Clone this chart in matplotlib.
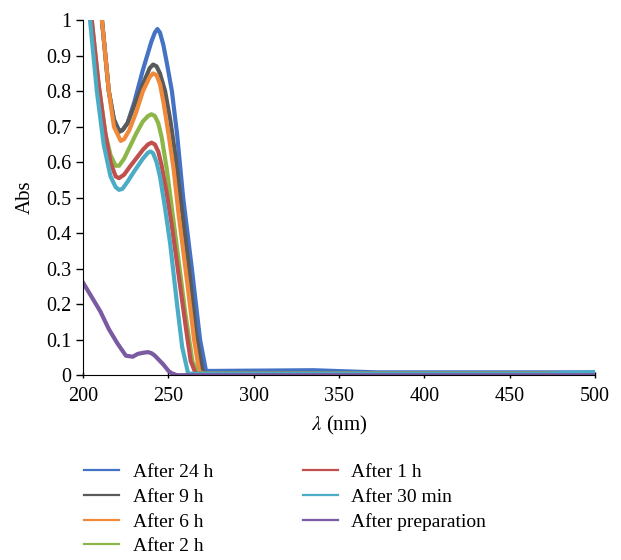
import matplotlib
matplotlib.use('Agg')
import matplotlib.pyplot as plt

plt.rcParams['font.family'] = ['Liberation Serif', 'DejaVu Serif']
plt.rcParams['mathtext.fontset'] = 'stix'

# absorbance spectra, wavelength in nm
wl_24h = [200, 205, 211, 215, 218, 221, 223, 226, 230, 235, 240, 242, 243.5, 245, 247, 249, 252, 255, 258.6, 263.7, 268.5, 272, 275, 335, 372, 500]
abs_24h = [1.5, 1.25, 1.0, 0.8, 0.72, 0.69, 0.69, 0.71, 0.77, 0.86, 0.94, 0.965, 0.975, 0.965, 0.93, 0.88, 0.8, 0.68, 0.5, 0.3, 0.1, 0.012, 0.012, 0.014, 0.008, 0.008]

wl_9h = [200, 205, 211, 215, 218, 221, 223, 226, 230, 235, 239, 241, 243, 245, 248, 251, 254, 257, 262, 266, 270, 273, 500]
abs_9h = [1.5, 1.25, 1.0, 0.8, 0.72, 0.685, 0.69, 0.71, 0.76, 0.82, 0.865, 0.875, 0.87, 0.85, 0.8, 0.72, 0.62, 0.5, 0.3, 0.12, 0.01, 0.004, 0.004]

wl_6h = [200, 205, 211, 215, 218, 222, 224, 227, 231, 235, 239, 241, 243, 245, 247, 250, 253, 256, 261, 265, 268, 272, 372, 467, 500]
abs_6h = [1.5, 1.25, 1.0, 0.8, 0.7, 0.66, 0.665, 0.69, 0.74, 0.8, 0.84, 0.85, 0.845, 0.82, 0.77, 0.68, 0.58, 0.45, 0.26, 0.1, 0.01, 0.002, -0.002, -0.002, 0.003]

wl_2h = [200, 205, 209, 213, 216, 219, 221, 224, 227, 231, 235, 238, 240, 242, 244, 246, 249, 252, 256, 260, 264, 267, 500]
abs_2h = [1.3, 1.0, 0.82, 0.68, 0.62, 0.59, 0.59, 0.61, 0.64, 0.68, 0.715, 0.73, 0.735, 0.73, 0.71, 0.67, 0.58, 0.47, 0.32, 0.17, 0.04, 0.005, 0.005]

wl_1h = [200, 205, 209, 213, 216, 219, 221, 224, 227, 231, 235, 238, 240, 242, 244, 246, 249, 252, 256, 260, 263, 266, 500]
abs_1h = [1.3, 1.0, 0.82, 0.68, 0.6, 0.56, 0.555, 0.565, 0.585, 0.61, 0.635, 0.65, 0.655, 0.65, 0.63, 0.59, 0.51, 0.42, 0.28, 0.14, 0.04, 0.004, 0.004]

wl_30m = [200, 204, 208, 212, 216, 219, 221, 223, 226, 230, 235, 238, 239.5, 241, 243, 245, 248, 251, 255, 258, 261.5, 264, 470, 500]
abs_30m = [1.3, 1.0, 0.8, 0.65, 0.56, 0.53, 0.522, 0.525, 0.545, 0.575, 0.61, 0.627, 0.63, 0.625, 0.6, 0.56, 0.47, 0.37, 0.2, 0.08, 0.005, 0.004, 0.004, 0.009]

wl_prep = [200, 205, 210, 215, 220, 225, 229, 232, 235, 238, 240, 242, 245, 247, 250, 252, 255, 500]
abs_prep = [0.26, 0.22, 0.18, 0.13, 0.09, 0.055, 0.052, 0.06, 0.063, 0.065, 0.062, 0.055, 0.04, 0.03, 0.012, 0.005, 0.0, 0.0]

labels = ['After 24 h', 'After 9 h', 'After 6 h', 'After 2 h', 'After 1 h', 'After 30 min', 'After preparation']
colors = ['#4472C4', '#5A5A5A', '#F08A3A', '#8DB648', '#C0504D', '#4BACC6', '#7A5AA0']

series = [(wl_24h, abs_24h), (wl_9h, abs_9h), (wl_6h, abs_6h), (wl_2h, abs_2h),
          (wl_1h, abs_1h), (wl_30m, abs_30m), (wl_prep, abs_prep)]

fig = plt.figure(figsize=(6.21, 5.6), dpi=100)
ax = fig.add_axes([0.134, 0.330, 0.824, 0.634])

handles = []
for (x, y), lab, c in zip(series, labels, colors):
    ax.plot(x, y, color=c, lw=3, solid_joinstyle='round', zorder=2)
    h, = ax.plot([], [], color=c, lw=1.6, label=lab)
    handles.append(h)

ax.set_xlim(200, 500)
ax.set_ylim(0, 1)
ax.set_xticks(range(200, 501, 50))
ax.set_yticks([i / 10 for i in range(11)])
ax.set_yticklabels(['0'] + ['%.1f' % (i / 10) for i in range(1, 10)] + ['1'])
for s in ['top', 'right']:
    ax.spines[s].set_visible(False)
ax.tick_params(axis='both', labelsize=14.5, length=5, width=1)
ax.tick_params(axis='x', direction='inout', pad=6)
ax.set_xlabel('$\\lambda$ (nm)', fontsize=15, labelpad=6)
ax.set_ylabel('Abs', fontsize=15, labelpad=8)

fig.legend(handles=handles, loc='upper left', bbox_to_anchor=(0.136, 0.172),
           ncol=2, frameon=False, fontsize=14, handlelength=1.8,
           handletextpad=0.7, columnspacing=4.6, labelspacing=0.36,
           borderpad=0, borderaxespad=0)

fig.savefig('out.png', dpi=100)
